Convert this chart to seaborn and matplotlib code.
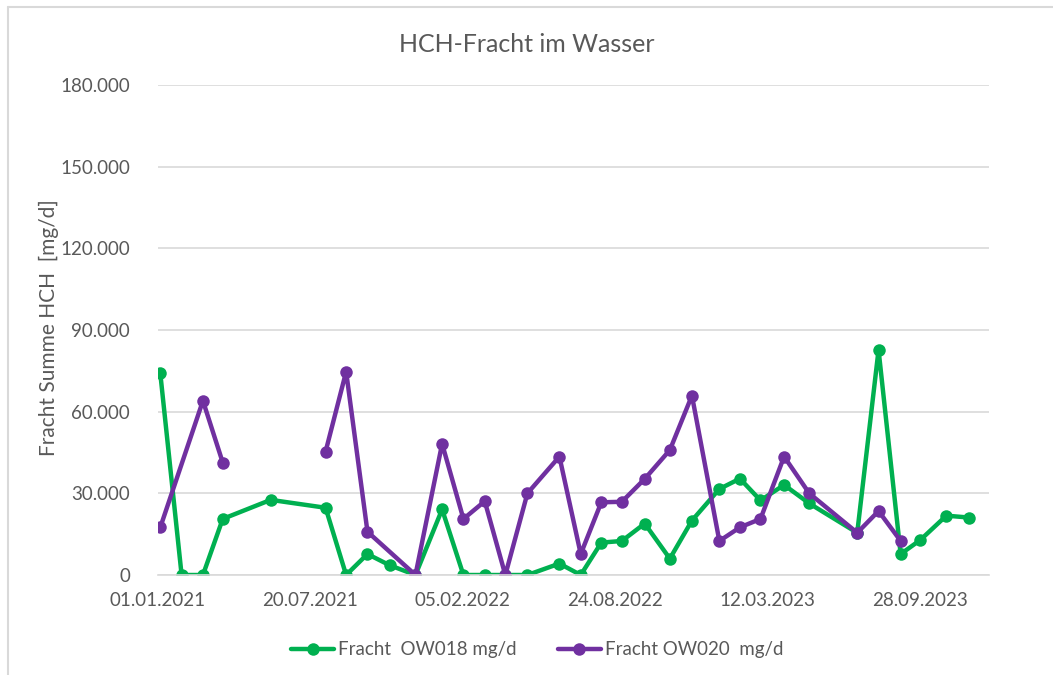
import matplotlib
matplotlib.use("Agg")
import matplotlib.pyplot as plt
import matplotlib.dates as mdates
from matplotlib.lines import Line2D
from matplotlib.ticker import FuncFormatter, MultipleLocator
import numpy as np
import pandas as pd
import seaborn as sns

# data (mg/d)
ow018_dates = ["2021-01-04", "2021-02-01", "2021-03-01", "2021-03-27", "2021-05-29",
               "2021-08-09", "2021-09-05", "2021-10-03", "2021-11-01", "2021-12-05",
               "2022-01-09", "2022-02-06", "2022-03-06", "2022-04-02", "2022-05-01",
               "2022-06-12", "2022-07-10", "2022-08-06", "2022-09-02", "2022-10-02",
               "2022-11-04", "2022-12-03", "2023-01-08", "2023-02-04", "2023-03-03",
               "2023-04-03", "2023-05-06", "2023-07-08", "2023-08-05", "2023-09-03",
               "2023-09-29", "2023-11-02", "2023-12-02"]
ow018_values = [74100, 0, 0, 20600, 27600,
                24700, 0, 7700, 3600, 0,
                24100, 0, 0, 0, 0,
                4200, 0, 11900, 12500, 18900,
                6000, 20000, 31600, 35400, 27400,
                33100, 26300, 15500, 82700, 7700,
                12900, 21800, 21100]

ow020_dates = ["2021-01-04", "2021-03-01", "2021-03-27", "2021-05-29", "2021-08-09",
               "2021-09-05", "2021-10-03", "2021-12-05", "2022-01-09", "2022-02-06",
               "2022-03-06", "2022-04-02", "2022-05-01", "2022-06-12", "2022-07-10",
               "2022-08-06", "2022-09-02", "2022-10-02", "2022-11-04", "2022-12-03",
               "2023-01-08", "2023-02-04", "2023-03-03", "2023-04-03", "2023-05-06",
               "2023-07-08", "2023-08-05", "2023-09-03"]
ow020_values = [17500, 64000, 41300, np.nan, 45300,
                74700, 15900, 0, 48200, 20600,
                27100, 0, 30000, 43500, 7700,
                26700, 26900, 35300, 45900, 65900,
                12500, 17500, 20600, 43500, 30000,
                15500, 23500, 12500]

series_names = ["Fracht  OW018 mg/d", "Fracht OW020  mg/d"]
series_colors = ["#00B050", "#7030A0"]


def make_frame(dates, values, name):
    df = pd.DataFrame({"Datum": pd.to_datetime(dates), "Fracht": values})
    df["segment"] = df["Fracht"].isna().cumsum()
    df["Serie"] = name
    return df.dropna()


data = pd.concat([make_frame(ow018_dates, ow018_values, series_names[0]),
                  make_frame(ow020_dates, ow020_values, series_names[1])])

sns.set_style("white")
plt.rcParams["font.family"] = ["Lato", "DejaVu Sans"]
text_color = "#595959"

fig = plt.figure(figsize=(10.53, 6.75), dpi=100)
ax = fig.add_axes([158 / 1053, 1 - 575 / 675, (989 - 158) / 1053, (575 - 85) / 675])

sns.lineplot(data=data, x="Datum", y="Fracht", hue="Serie", units="segment",
             estimator=None, sort=False, palette=series_colors, marker="o",
             markersize=9, markeredgewidth=0, linewidth=3.2, legend=False, ax=ax)

start = pd.Timestamp("2021-01-01")
ax.set_xlim(start, start + pd.Timedelta(days=1091))
ax.set_ylim(0, 180000)
ticks = [start + pd.Timedelta(days=200 * i) for i in range(6)]
ax.set_xticks(ticks)
ax.xaxis.set_major_formatter(mdates.DateFormatter("%d.%m.%Y"))
ax.yaxis.set_major_locator(MultipleLocator(30000))
ax.yaxis.set_major_formatter(FuncFormatter(lambda v, p: f"{int(v):,}".replace(",", ".")))

ax.grid(axis="y", color="#D9D9D9", linewidth=1.2)
ax.set_axisbelow(True)
for s in ["left", "right", "top"]:
    ax.spines[s].set_visible(False)
ax.spines["bottom"].set_color("#D9D9D9")
ax.spines["bottom"].set_linewidth(1.2)
ax.tick_params(axis="x", colors="#D9D9D9", length=5, width=1.2, direction="out",
               labelcolor=text_color, labelsize=13.5, pad=7)
ax.tick_params(axis="y", length=0, labelcolor=text_color, labelsize=13.5, pad=20)

ax.set_xlabel("")
ax.set_ylabel("")
fig.text(49 / 1053, 1 - 328 / 675, "Fracht Summe HCH  [mg/d]", rotation=90,
         ha="center", va="center", color=text_color, fontsize=15)
fig.text(0.5, 1 - 45 / 675, "HCH-Fracht im Wasser", ha="center", va="center",
         color=text_color, fontsize=18)

handles = [Line2D([0], [0], color=c, linewidth=3.2, marker="o", markersize=9,
                  markeredgewidth=0) for c in series_colors]
fig.legend(handles, series_names, loc="center", bbox_to_anchor=(0.510, 1 - 650 / 675),
           ncol=2, frameon=False, fontsize=13.5, labelcolor=text_color,
           handlelength=2.3, handletextpad=0.2, columnspacing=2.2)

# outer chart frame
fig.add_artist(Line2D([8 / 1053, 8 / 1053], [0, 1 - 7 / 675], color="#D9D9D9",
                      linewidth=1.5, transform=fig.transFigure))
fig.add_artist(Line2D([8 / 1053, 1], [1 - 7 / 675, 1 - 7 / 675], color="#D9D9D9",
                      linewidth=1.5, transform=fig.transFigure))

fig.savefig("out.png", dpi=100)
